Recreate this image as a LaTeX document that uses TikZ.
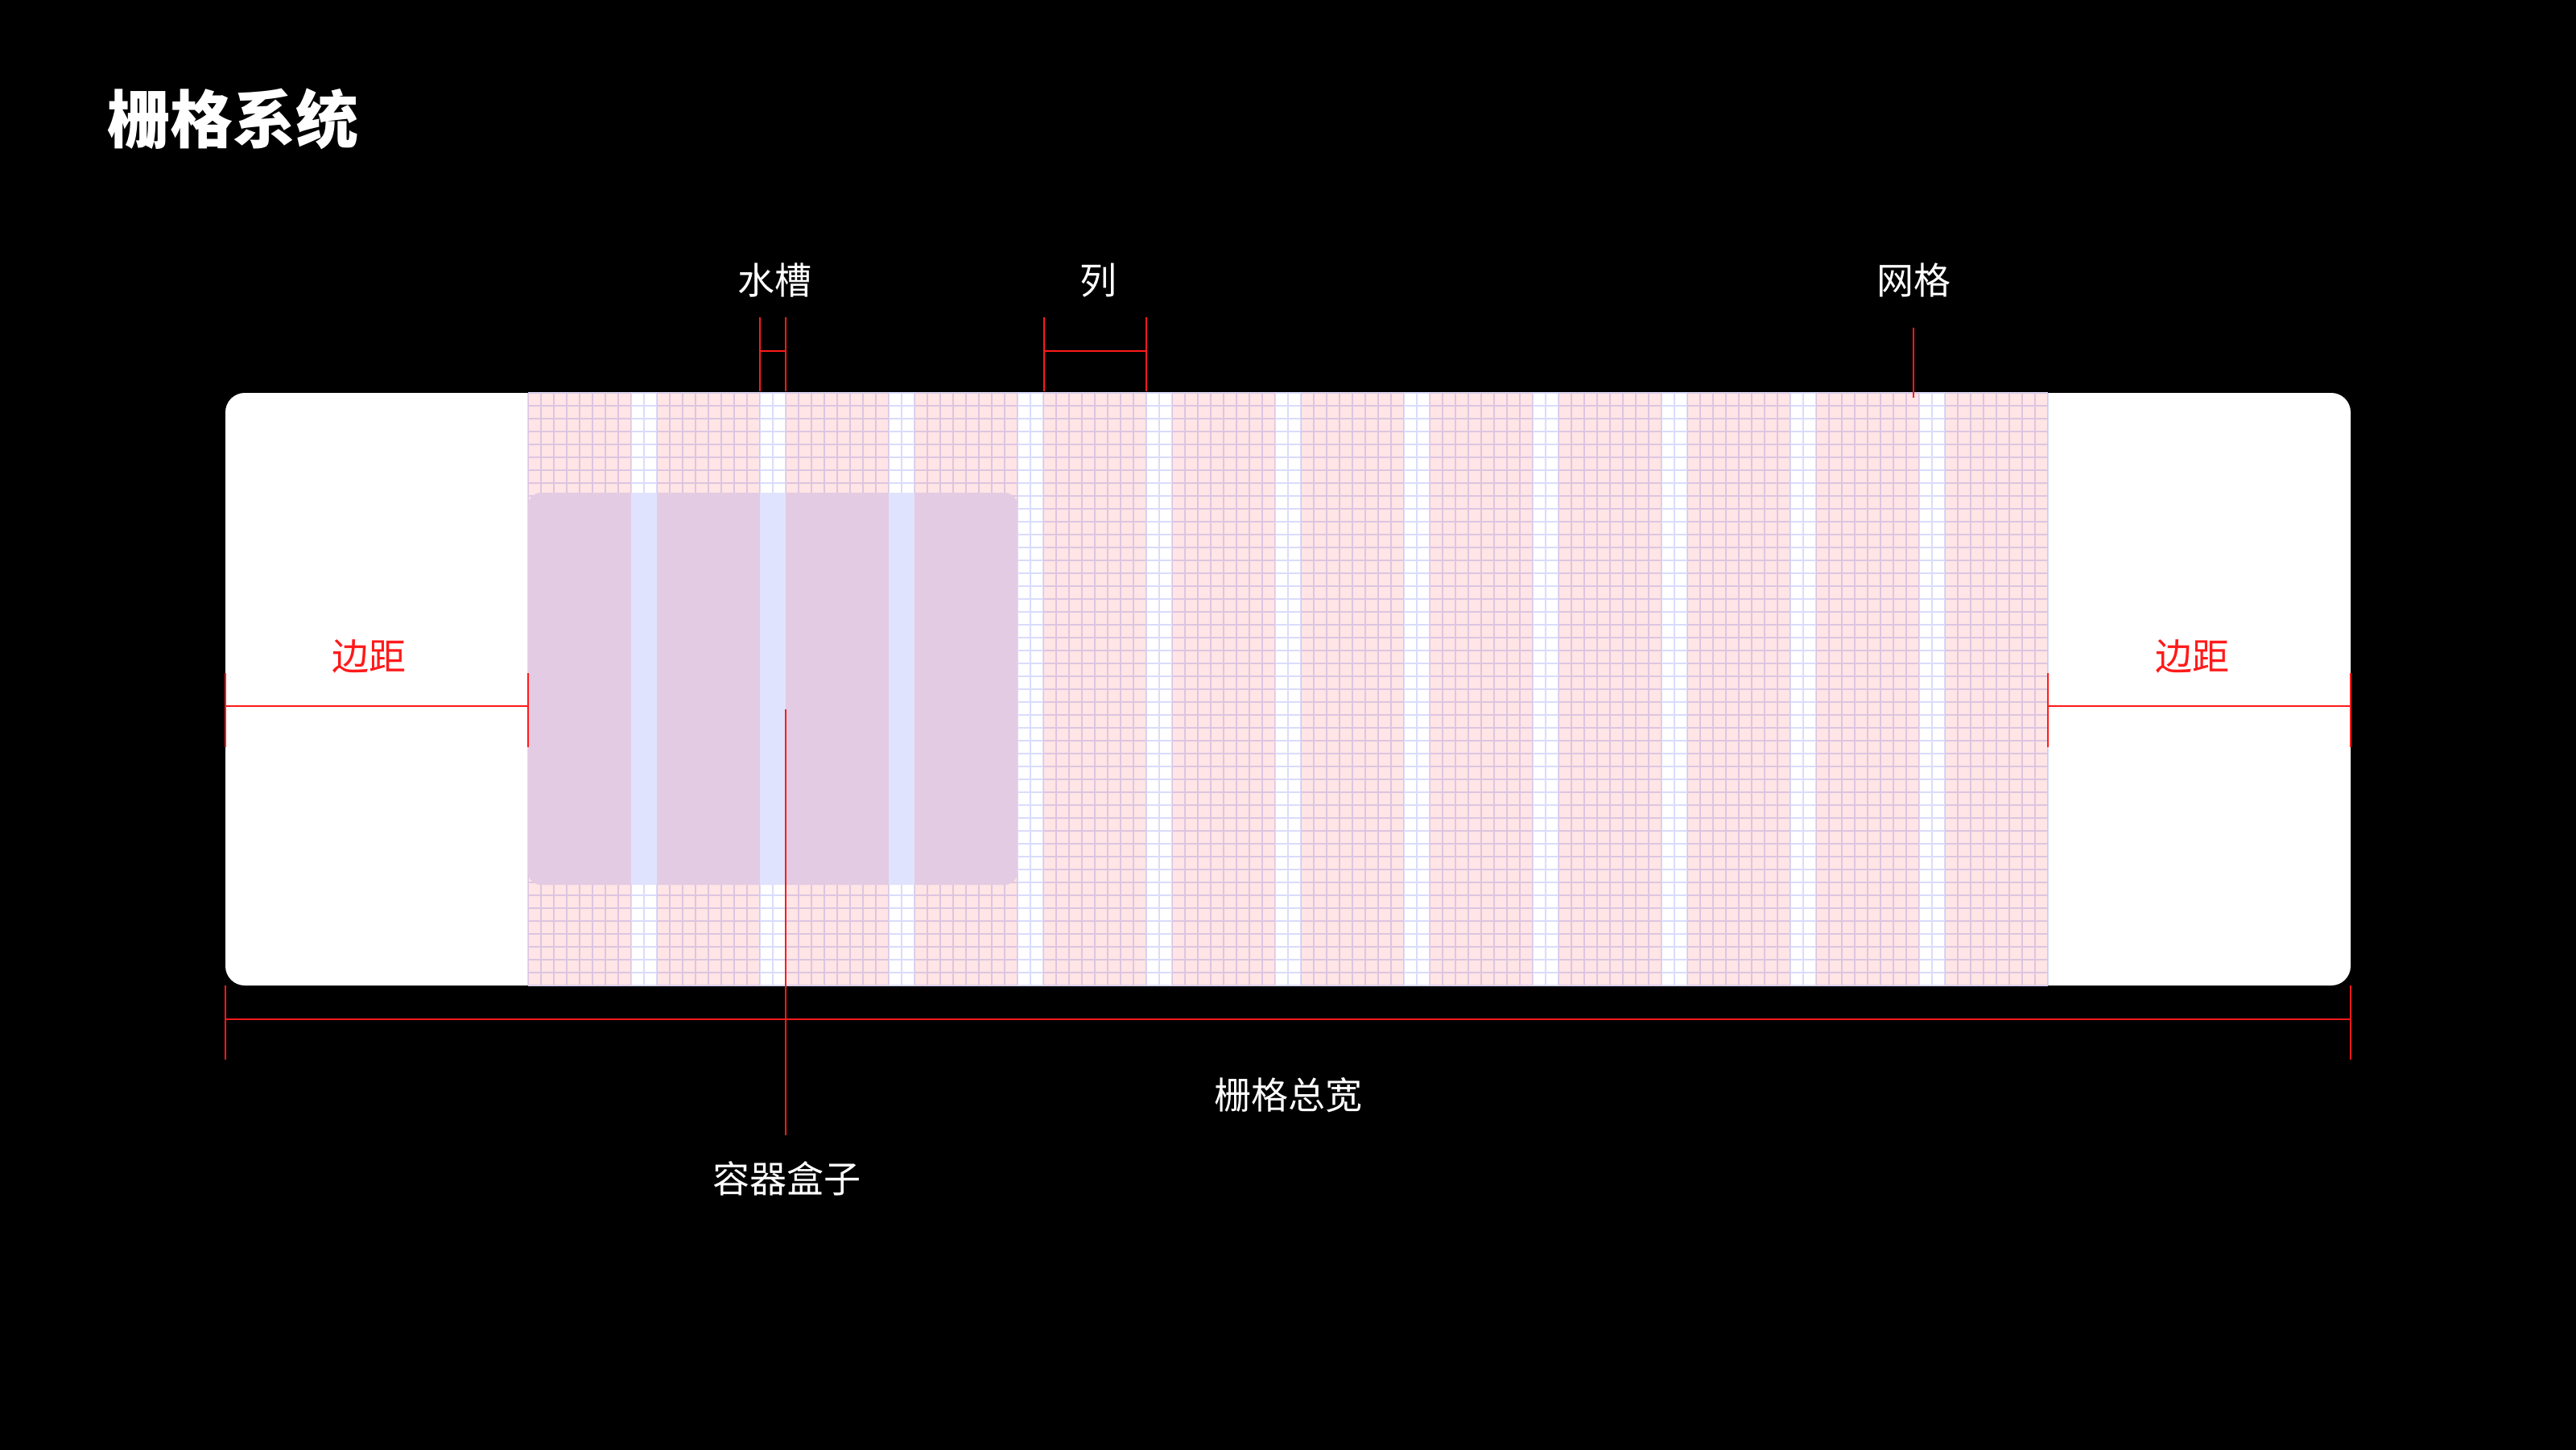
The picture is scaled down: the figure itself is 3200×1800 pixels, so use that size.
\documentclass[tikz,border=0pt]{standalone}
\usepackage{fontspec}
\newfontfamily\cjk{Noto Sans CJK SC}
\definecolor{dimred}{RGB}{255,26,26}
\definecolor{gridblue}{RGB}{218,220,251}
\definecolor{boxblue}{RGB}{224,227,253}
\tikzset{
  dimline/.style={draw=dimred, line width=2.5pt},
  gridline/.style={draw=gridblue, line width=1.5pt},
  lbl/.style={inner sep=0pt, text=white, font=\cjk\fontsize{46}{50}\selectfont},
  redlbl/.style={inner sep=0pt, text=dimred, font=\cjk\fontsize{46}{50}\selectfont},
  colfill/.style={fill=red, fill opacity=0.1}
}
\begin{document}
\begin{tikzpicture}[x=1pt,y=-1pt]
\useasboundingbox (0,0) rectangle (3200,1800);
\fill[black] (-20,-20) rectangle (3220,1820);

% title
\node[anchor=west, inner sep=0pt, text=white, font=\cjk\bfseries\fontsize{78}{84}\selectfont] (title) at (133,148) {栅格系统};

% card
\fill[white, rounded corners=24pt] (280,488) rectangle (2920,1224);

% fine grid
\foreach \i in {0,...,118} \draw[gridline] ({656+16*\i},488) -- ({656+16*\i},1224);
\foreach \j in {0,...,46} \draw[gridline] (656,{488+16*\j}) -- (2544,{488+16*\j});

% container box
\fill[boxblue, rounded corners=16pt] (656,612) rectangle (1264,1099);

% columns
\foreach \i in {0,...,11} \fill[colfill] ({656+160*\i},488) rectangle ++(128,736);

% gutter dimension
\coordinate (g1t) at (944,394); \coordinate (g1b) at (944,486);
\coordinate (g2t) at (976,394); \coordinate (g2b) at (976,486);
\coordinate (g1m) at (944,436); \coordinate (g2m) at (976,436);
\draw[dimline] (g1t) -- (g1b);
\draw[dimline] (g2t) -- (g2b);
\draw[dimline] (g1m) -- (g2m);
\node[lbl] (lgutter) at (962,348) {水槽};

% column dimension
\coordinate (c1t) at (1297,394); \coordinate (c1b) at (1297,486);
\coordinate (c2t) at (1424,394); \coordinate (c2b) at (1424,486);
\coordinate (c1m) at (1297,436); \coordinate (c2m) at (1424,436);
\draw[dimline] (c1t) -- (c1b);
\draw[dimline] (c2t) -- (c2b);
\draw[dimline] (c1m) -- (c2m);
\node[lbl] (lcol) at (1364,348) {列};

% grid pointer
\coordinate (gpt) at (2377,407); \coordinate (gpb) at (2377,494);
\draw[dimline] (gpt) -- (gpb);
\node[lbl] (lgrid) at (2377,348) {网格};

% left margin
\coordinate (ml1t) at (280,836); \coordinate (ml1b) at (280,928);
\coordinate (ml2t) at (656,836); \coordinate (ml2b) at (656,928);
\coordinate (ml1m) at (280,877); \coordinate (ml2m) at (656,877);
\draw[dimline] (ml1t) -- (ml1b);
\draw[dimline] (ml2t) -- (ml2b);
\draw[dimline] (ml1m) -- (ml2m);
\node[redlbl] (lml) at (458,815) {边距};

% right margin
\coordinate (mr1t) at (2544,836); \coordinate (mr1b) at (2544,928);
\coordinate (mr2t) at (2920,836); \coordinate (mr2b) at (2920,928);
\coordinate (mr1m) at (2544,877); \coordinate (mr2m) at (2920,877);
\draw[dimline] (mr1t) -- (mr1b);
\draw[dimline] (mr2t) -- (mr2b);
\draw[dimline] (mr1m) -- (mr2m);
\node[redlbl] (lmr) at (2723,815) {边距};

% total width
\coordinate (t1t) at (280,1224); \coordinate (t1b) at (280,1316);
\coordinate (t2t) at (2920,1224); \coordinate (t2b) at (2920,1316);
\coordinate (t1m) at (280,1266); \coordinate (t2m) at (2920,1266);
\draw[dimline] (t1t) -- (t1b);
\draw[dimline] (t2t) -- (t2b);
\draw[dimline] (t1m) -- (t2m);
\node[lbl] (ltotal) at (1600,1360) {栅格总宽};

% container pointer
\coordinate (bpt) at (976,881); \coordinate (bpb) at (976,1410);
\draw[dimline] (bpt) -- (bpb);
\node[lbl] (lbox) at (977,1464) {容器盒子};
\end{tikzpicture}
\end{document}
